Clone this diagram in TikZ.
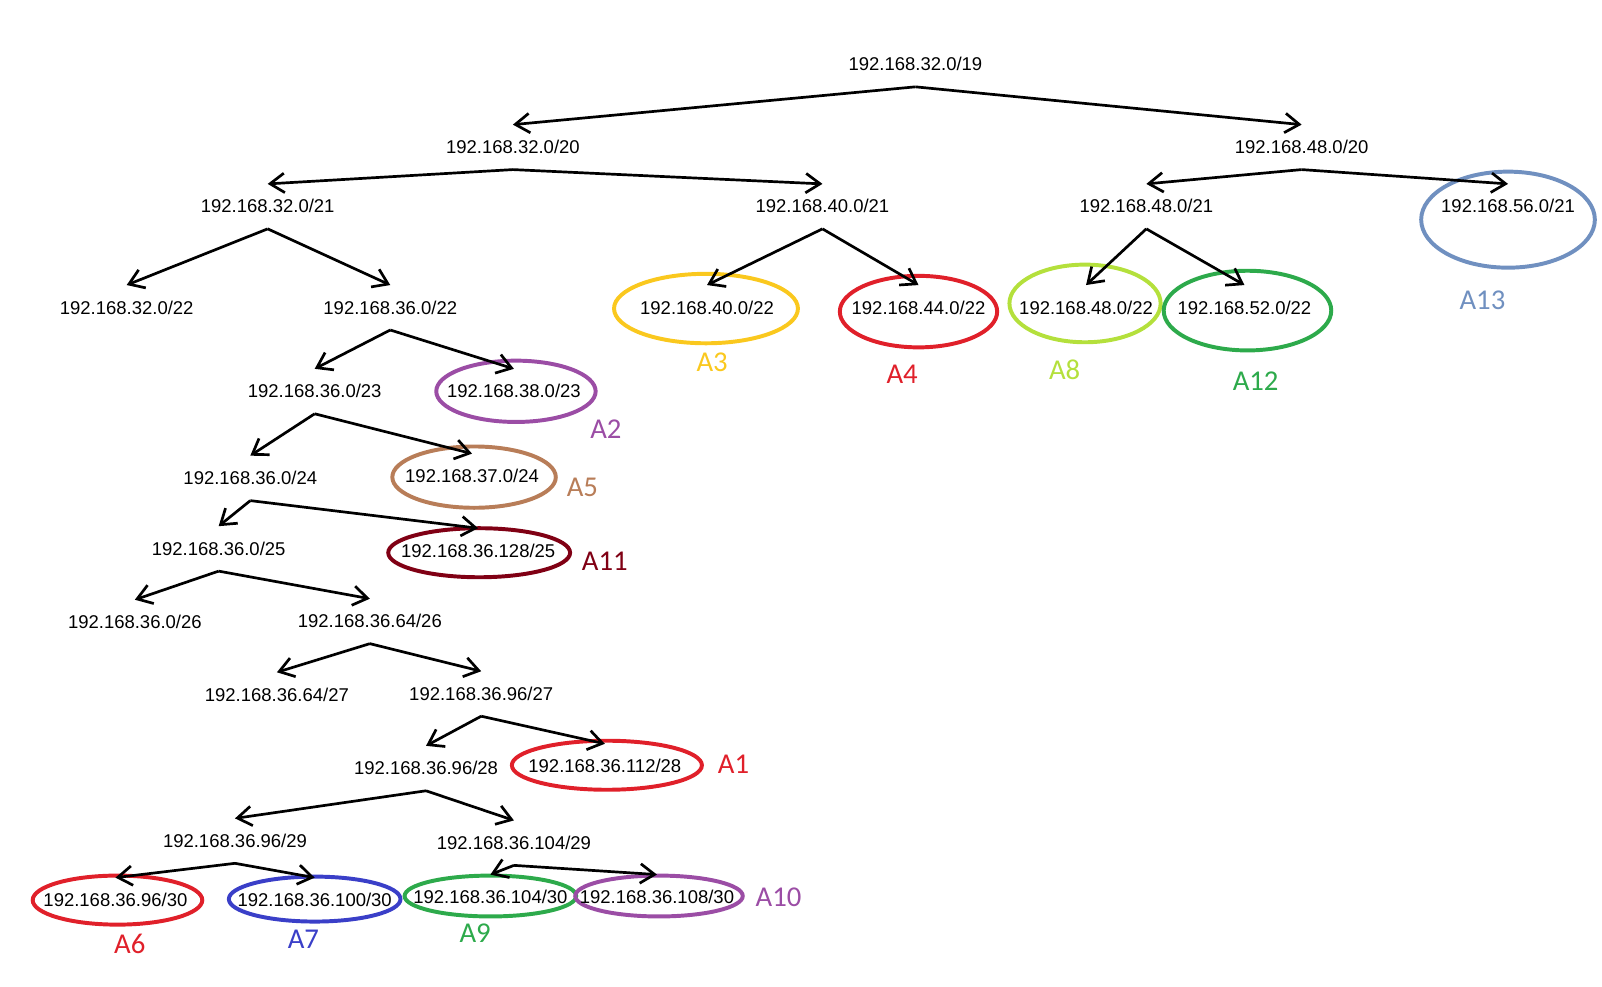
\documentclass[tikz,border=0pt]{standalone}
\usepackage{fontspec}
\setmainfont{Liberation Sans}
\newfontfamily\labelfont{Carlito}
\usetikzlibrary{arrows.meta}
\definecolor{netred}{RGB}{224,32,42}
\definecolor{netgold}{RGB}{250,200,30}
\definecolor{netlime}{RGB}{180,224,60}
\definecolor{netgreen}{RGB}{45,170,75}
\definecolor{netsteel}{RGB}{112,144,192}
\definecolor{netpurple}{RGB}{155,77,165}
\definecolor{netbrown}{RGB}{184,125,88}
\definecolor{netdark}{RGB}{128,0,20}
\definecolor{netblue}{RGB}{58,63,200}

\begin{document}
\begin{tikzpicture}[x=0.02cm,y=-0.02cm,
  addr/.style={font=\fontsize{10.3}{12}\selectfont,minimum height=0.88cm,inner sep=0pt,outer sep=0pt},
  link/.style={-{Straight Barb[length=2.8mm,width=3.8mm]},line width=1.5pt},
  ring/.style={draw=#1,line width=2.2pt},
  tag/.style={font=\labelfont\fontsize{16}{18}\selectfont,text=#1}]
 \useasboundingbox (0,0) rectangle (1568,966);
 %coloured rings and their names
 \foreach \ex/\ey/\rx/\ry/\lx/\ly/\col/\name in {
   691/302/90/34/697/355/netgold/A3, 899/305/77/35/883/366/netred/A4,
   1062/297/74/38/1042/362/netlime/A8, 1221/304/82/39/1229/373/netgreen/A12,
   1476/215/85/47/1451/294/netsteel/A13, 505/383/78/30/593/420/netpurple/A2,
   464/467/80/30/570/477/netbrown/A5, 469/541/89/24/592/549/netdark/A11,
   594/749/93/24/718/748/netred/A1, 115/881/83/24/127/924/netred/A6,
   308/880/84/22/297/919/netblue/A7, 480/877/84/20/465/913/netgreen/A9,
   645/877/82/20/762/878/netpurple/A10}
  {
   \draw[ring=\col] (\ex,\ey) ellipse [x radius=\rx, y radius=\ry];
   \node[tag=\col] (\name) at (\lx,\ly) {\name};
  }
 %subnets
 \node[addr] (s32-0-19) at (896,63) {192.168.32.0/19};
 \node[addr] (s32-0-20) at (502,144) {192.168.32.0/20};
 \node[addr] (s48-0-20) at (1274,144) {192.168.48.0/20};
 \node[addr] (s32-0-21) at (262,202) {192.168.32.0/21};
 \node[addr] (s40-0-21) at (805,202) {192.168.40.0/21};
 \node[addr] (s48-0-21) at (1122,202) {192.168.48.0/21};
 \node[addr] (s56-0-21) at (1476,202) {192.168.56.0/21};
 \node[addr] (s32-0-22) at (124,301) {192.168.32.0/22};
 \node[addr] (s36-0-22) at (382,301) {192.168.36.0/22};
 \node[addr] (s40-0-22) at (692,301) {192.168.40.0/22};
 \node[addr] (s44-0-22) at (899,301) {192.168.44.0/22};
 \node[addr] (s48-0-22) at (1063,301) {192.168.48.0/22};
 \node[addr] (s52-0-22) at (1218,301) {192.168.52.0/22};
 \node[addr] (s36-0-23) at (308,383) {192.168.36.0/23};
 \node[addr] (s38-0-23) at (503,383) {192.168.38.0/23};
 \node[addr] (s36-0-24) at (245,468) {192.168.36.0/24};
 \node[addr] (s37-0-24) at (462,466) {192.168.37.0/24};
 \node[addr] (s36-0-25) at (214,537) {192.168.36.0/25};
 \node[addr] (s36-128-25) at (468,539) {192.168.36.128/25};
 \node[addr] (s36-0-26) at (132,609) {192.168.36.0/26};
 \node[addr] (s36-64-26) at (362,608) {192.168.36.64/26};
 \node[addr] (s36-64-27) at (271,680) {192.168.36.64/27};
 \node[addr] (s36-96-27) at (471,679) {192.168.36.96/27};
 \node[addr] (s36-96-28) at (417,752) {192.168.36.96/28};
 \node[addr] (s36-112-28) at (592,750) {192.168.36.112/28};
 \node[addr] (s36-96-29) at (230,823) {192.168.36.96/29};
 \node[addr] (s36-104-29) at (503,825) {192.168.36.104/29};
 \node[addr] (s36-96-30) at (113,881) {192.168.36.96/30};
 \node[addr] (s36-100-30) at (308,881) {192.168.36.100/30};
 \node[addr] (s36-104-30) at (480,878) {192.168.36.104/30};
 \node[addr] (s36-108-30) at (643,878) {192.168.36.108/30};
 %splits
 \foreach \p/\a/\b in {s32-0-19/s32-0-20/s48-0-20, s32-0-20/s32-0-21/s40-0-21,
   s48-0-20/s48-0-21/s56-0-21, s32-0-21/s32-0-22/s36-0-22, s40-0-21/s40-0-22/s44-0-22,
   s48-0-21/s48-0-22/s52-0-22, s36-0-22/s36-0-23/s38-0-23, s36-0-23/s36-0-24/s37-0-24,
   s36-0-24/s36-0-25/s36-128-25, s36-0-25/s36-0-26/s36-64-26, s36-64-26/s36-64-27/s36-96-27,
   s36-96-27/s36-96-28/s36-112-28, s36-96-28/s36-96-29/s36-104-29,
   s36-96-29/s36-96-30/s36-100-30, s36-104-29/s36-104-30/s36-108-30}
  {
   \draw[link] (\p.south) -- (\a.north);
   \draw[link] (\p.south) -- (\b.north);
  }
\end{tikzpicture}
\end{document}
